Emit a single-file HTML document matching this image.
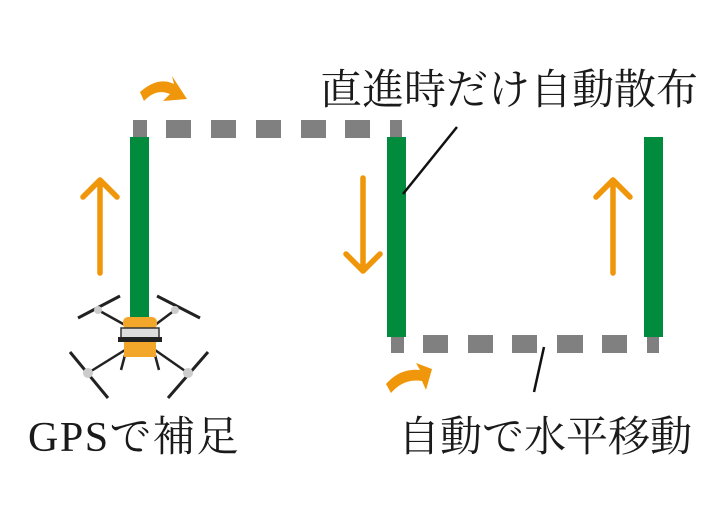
<!DOCTYPE html>
<html><head><meta charset="utf-8"><style>
body{margin:0;background:#fff;width:718px;height:522px;overflow:hidden}
svg{position:absolute;left:0;top:0}
.t{font-family:"Liberation Serif","Noto Serif CJK JP","Noto Serif CJK SC",serif;font-size:42px;fill:#1a1a1a}
</style></head><body>
<svg width="718" height="522" viewBox="0 0 718 522">
<g fill="#808080">
<rect x="133" y="120" width="14" height="18"/><rect x="166" y="120" width="25" height="18"/><rect x="211" y="120" width="25" height="18"/><rect x="256" y="120" width="25" height="18"/><rect x="301" y="120" width="25" height="18"/><rect x="345" y="120" width="25" height="18"/><rect x="390" y="120" width="12" height="18"/>
<rect x="391" y="337" width="13" height="16"/><rect x="423" y="335" width="25" height="18"/><rect x="468" y="335" width="25" height="18"/><rect x="512" y="335" width="25" height="18"/><rect x="557" y="335" width="26" height="18"/><rect x="602" y="335" width="25" height="18"/><rect x="647" y="335" width="12" height="18"/>
</g>
<g fill="#008c3c">
<rect x="130" y="137" width="19" height="185"/><rect x="387" y="137" width="19" height="200"/><rect x="644" y="137" width="19" height="200"/>
</g>
<g stroke="#f0960a" stroke-width="5.5" fill="none" stroke-linecap="round" stroke-linejoin="round">
<path d="M100 273V180M83 197L100 180L117 197"/>
<path d="M363 178V271M346 254L363 271L380 254"/>
<path d="M613 273V180M596 197L613 180L630 197"/>
</g>
<g fill="#f0960a">
<path d="M140 92Q158 76 174 84L172 76L187 99L163 101L170 94Q156 88 144 101Z"/>
<path d="M386 384Q400 368 420 370L416 363L432 369L426 390L422 381Q404 378 391 393Z"/>
</g>
<g stroke="#111" stroke-width="2.5">
<line x1="403" y1="194" x2="457" y2="127"/><line x1="544" y1="347" x2="534" y2="392"/>
</g>
<g stroke="#222" stroke-width="2.5" fill="none">
<line x1="98" y1="310" x2="125" y2="325"/><line x1="175" y1="310" x2="155" y2="325"/>
<line x1="88" y1="373" x2="125" y2="350"/><line x1="188" y1="373" x2="155" y2="350"/>
<line x1="78" y1="318" x2="120" y2="296" stroke-width="3"/><line x1="157" y1="296" x2="200" y2="318" stroke-width="3"/>
<line x1="70" y1="352" x2="108" y2="398" stroke-width="3"/><line x1="208" y1="352" x2="168" y2="398" stroke-width="3"/>
<line x1="125" y1="355" x2="121" y2="370"/><line x1="155" y1="355" x2="159" y2="370"/>
</g>
<g fill="#ccc"><circle cx="98" cy="310" r="4"/><circle cx="175" cy="310" r="4"/><circle cx="88" cy="373" r="5"/><circle cx="188" cy="373" r="5"/></g>
<rect x="123" y="317" width="34" height="12" rx="5" fill="#f2a72a"/>
<rect x="121" y="328" width="38" height="10" fill="#ddd" stroke="#333" stroke-width="1.5"/>
<rect x="118" y="337" width="44" height="5" fill="#222"/>
<rect x="124" y="342" width="32" height="15" fill="#f2a72a"/>
<text class="t" x="320" y="104">直進時だけ自動散布</text>
<text class="t" x="28" y="451" letter-spacing="1.5">GPSで補足</text>
<text class="t" x="398" y="451">自動で水平移動</text>
</svg>
</body></html>
